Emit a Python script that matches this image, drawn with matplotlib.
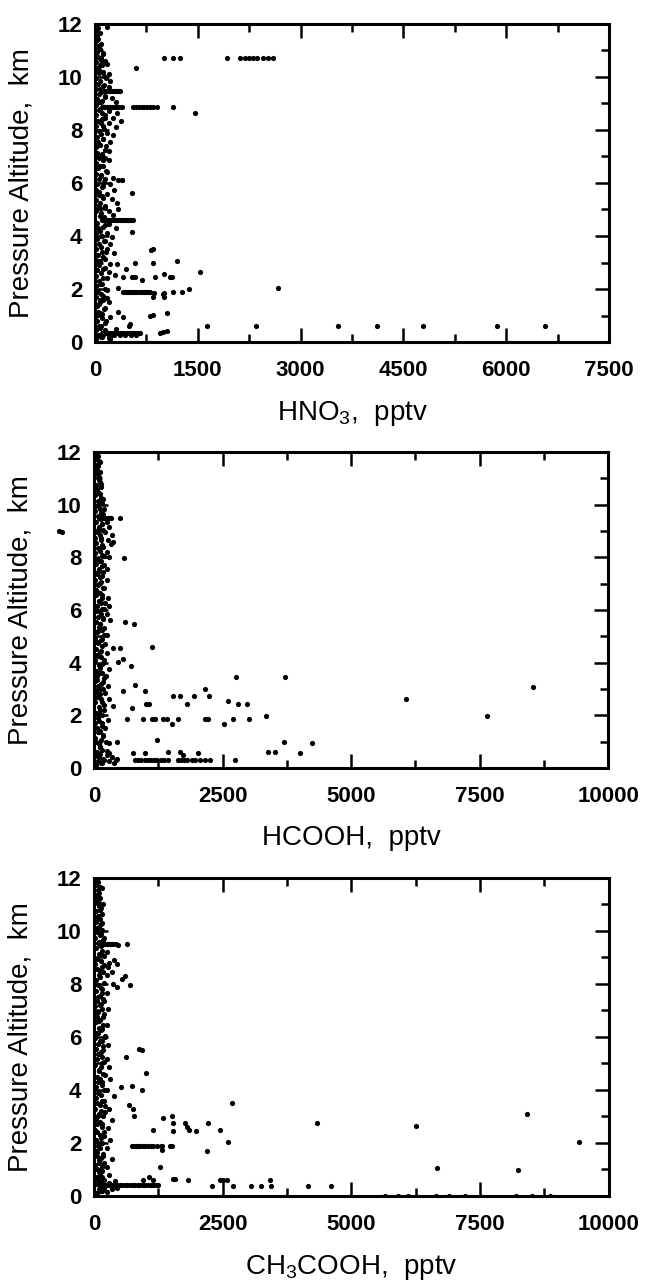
import numpy as np
import matplotlib
matplotlib.use("Agg")
import matplotlib.pyplot as plt
from matplotlib.ticker import MultipleLocator

plt.rcParams['font.family'] = ['Liberation Sans', 'DejaVu Sans']
plt.rcParams['mathtext.fontset'] = 'custom'
plt.rcParams['mathtext.rm'] = 'Liberation Sans'
plt.rcParams['mathtext.it'] = 'Liberation Sans'
plt.rcParams['mathtext.default'] = 'regular'

# altitudes (km) of the low-concentration samples hugging the y axis
edge_alt = [0.1, 0.25, 0.45, 0.6, 0.8, 1.0, 1.15, 1.35, 1.5, 1.7,
            1.9, 2.1, 2.3, 2.5, 2.7, 2.9, 3.1, 3.3, 3.5, 3.7,
            3.9, 4.1, 4.3, 4.5, 4.75, 4.95, 5.15, 5.35, 5.55, 5.75,
            5.95, 6.15, 6.35, 6.55, 6.75, 6.95, 7.15, 7.35, 7.55, 7.75,
            7.95, 8.15, 8.35, 8.55, 8.75, 8.95, 9.15, 9.35, 9.55, 9.75,
            9.95, 10.15, 10.35, 10.55, 10.75, 10.95, 11.15, 11.35, 11.55, 11.75,
            11.95]
edge_alt2 = [0.18, 0.35, 0.52, 0.7, 0.9, 1.08, 1.25, 1.42, 1.6, 1.8,
             2.0, 2.2, 2.4, 2.6, 2.8, 3.0, 3.2, 3.4, 3.6, 3.8,
             4.0, 4.2, 4.4, 4.62, 4.85, 5.05, 5.25, 5.45, 5.65, 5.85,
             6.05, 6.25, 6.45, 6.65, 6.85, 7.05, 7.25, 7.45, 7.65, 7.85,
             8.05, 8.25, 8.45, 8.65, 8.85, 9.05, 9.25, 9.45, 9.65, 9.85,
             10.05, 10.25, 10.45, 10.65, 10.85, 11.05, 11.25, 11.45, 11.65, 11.85]

# ---------------- HNO3 ----------------
hno3_edge = [15, 45, 20, 60, 30, 10, 50, 25, 70, 15,
             40, 20, 55, 10, 35, 65, 20, 45, 15, 60,
             30, 10, 50, 25, 70, 15, 40, 20, 55, 10,
             35, 60, 20, 45, 15, 60, 30, 10, 50, 25,
             65, 15, 40, 20, 55, 10, 35, 60, 20, 45,
             15, 60, 30, 10, 50, 25, 40, 15, 30, 10,
             20]
hno3_edge2 = [90, 120, 70, 140, 100, 80, 130, 60, 110, 90,
              150, 75, 120, 95, 140, 65, 110, 160, 85, 130,
              100, 70, 150, 120, 90, 140, 80, 115, 60, 105,
              135, 90, 160, 75, 120, 100, 140, 70, 110, 95,
              130, 85, 150, 100, 125, 70, 140, 95, 115, 80,
              130, 60, 100, 85, 120, 70, 95, 50, 80, 40]
hno3_core = [
    (20, 11.9), (175, 11.9), (120, 10.9), (90, 10.7), (150, 10.62), (180, 10.5),
    (75, 10.45), (110, 10.2), (200, 10.12), (160, 9.95), (220, 9.85), (130, 9.7),
    (210, 9.62), (80, 9.55), (150, 9.3), (250, 9.2), (100, 9.1), (300, 9.05),
    (80, 8.78), (200, 8.7), (320, 8.65), (150, 8.55), (260, 8.45), (100, 8.4),
    (380, 8.35), (200, 8.25), (120, 8.15), (300, 8.1), (180, 7.9), (260, 7.8),
    (120, 7.65), (220, 7.55), (80, 7.45), (160, 7.4), (200, 7.2), (100, 7.1),
    (150, 6.95), (210, 6.85), (120, 6.65), (180, 6.4), (90, 6.3), (260, 6.2),
    (150, 6.15), (330, 6.1), (400, 6.1), (220, 5.95), (120, 5.9), (280, 5.75),
    (180, 5.6), (100, 5.5), (250, 5.4), (320, 5.25), (150, 5.15), (80, 5.05),
    (200, 4.95), (270, 4.8), (130, 4.72), (200, 4.45), (120, 4.35), (300, 4.3),
    (170, 4.1), (90, 4.0), (250, 3.95), (140, 3.8), (220, 3.7), (180, 3.5),
    (100, 3.4), (280, 3.35), (150, 3.15), (80, 3.05), (220, 2.95), (120, 2.75),
    (200, 2.65), (170, 2.4), (100, 2.2), (180, 1.95), (120, 1.75), (80, 1.6),
    (200, 1.5), (150, 1.3), (100, 1.05), (160, 0.8), (90, 0.6), (100, 0.2),
    (200, 0.15), (150, 0.45), (250, 0.25), (300, 0.5), (220, 0.1),
]
hno3_rows = [
    (10.72, [1007, 1138, 1240, 1927, 2117, 2190, 2250, 2310, 2370, 2450, 2526, 2600]),
    (9.47, [100, 125, 150, 175, 200, 225, 250, 275, 300, 325, 350, 365]),
    (8.88, [100, 125, 150, 175, 200, 225, 250, 275, 300, 325, 350, 390,
            560, 600, 640, 680, 720, 760, 800, 850, 900]),
    (4.6, [100, 125, 150, 175, 200, 225, 250, 275, 300, 325, 350, 375,
           400, 425, 450, 475, 500, 525, 550]),
    (1.87, [410, 440, 470, 500, 530, 560, 590, 620, 650, 680, 710, 740, 770, 803]),
    (0.35, [100, 130, 160, 190, 220, 250, 280, 310, 340, 370, 400, 430,
            460, 490, 520, 550, 580, 610, 640, 655]),
    (0.27, [120, 200, 280, 360, 440, 520, 600]),
]
hno3_out = [
    (600, 10.35), (1140, 8.88), (1460, 8.64), (540, 5.62), (394, 6.11), (336, 5.0),
    (540, 4.15), (818, 3.47), (840, 3.52), (1197, 3.07), (850, 3.0), (584, 2.98),
    (453, 2.75), (320, 2.95), (1533, 2.63), (292, 2.53), (409, 2.45), (540, 2.45),
    (584, 2.45), (686, 2.34), (876, 2.45), (1007, 2.57), (1095, 2.45), (1124, 2.45),
    (336, 2.04), (2672, 2.04), (861, 1.85), (993, 1.8), (1139, 1.89), (1270, 1.89),
    (1372, 2.0), (847, 1.7), (1007, 1.7), (1007, 1.85), (175, 1.66), (336, 1.13),
    (410, 0.94), (803, 0.98), (847, 1.02), (1051, 1.09), (220, 0.94), (511, 0.68),
    (490, 0.62), (1635, 0.6), (2350, 0.6), (3548, 0.6), (4117, 0.6), (4789, 0.6),
    (5869, 0.6), (6570, 0.6), (950, 0.34), (990, 0.36), (1051, 0.42),
]

# ---------------- HCOOH ----------------
hcooh_edge = [30, 80, 20, 60, 110, 40, 15, 90, 50, 25,
              70, 35, 100, 20, 60, 45, 85, 15, 55, 30,
              95, 25, 65, 40, 80, 20, 50, 105, 35, 70,
              15, 60, 90, 30, 45, 75, 20, 55, 100, 35,
              65, 25, 85, 45, 15, 55, 95, 30, 70, 20,
              40, 80, 25, 60, 35, 90, 50, 20, 70, 30,
              45]
hcooh_edge2 = [130, 170, 110, 150, 90, 140, 180, 120, 160, 100,
               150, 120, 190, 140, 110, 170, 130, 200, 150, 120,
               180, 140, 110, 160, 130, 190, 150, 120, 170, 140,
               200, 130, 160, 110, 180, 140, 120, 170, 150, 130,
               190, 110, 160, 140, 120, 180, 150, 130, 170, 110,
               150, 130, 100, 140, 120, 90, 110, 80, 100, 70]
hcooh_core = [
    (117, 11.62), (60, 11.3), (90, 11.0), (140, 10.8), (50, 10.6), (120, 10.4),
    (170, 10.2), (80, 10.0), (200, 9.85), (130, 9.7), (250, 9.35), (150, 9.25),
    (300, 9.15), (80, 9.05), (220, 8.95), (350, 8.85), (130, 8.75), (270, 8.65),
    (370, 8.58), (330, 8.5), (180, 8.4), (90, 8.3), (250, 8.2), (150, 8.1),
    (300, 8.0), (120, 7.85), (200, 7.7), (253, 7.55), (80, 7.45), (150, 7.3),
    (250, 7.15), (100, 7.0), (200, 6.85), (60, 6.7), (150, 6.55), (280, 6.45),
    (100, 6.35), (220, 6.25), (300, 6.15), (150, 6.05), (80, 5.95), (250, 5.85),
    (180, 5.7), (311, 5.6), (120, 5.45), (200, 5.3), (80, 5.2), (250, 5.05),
    (150, 4.9), (60, 4.8), (220, 4.7), (140, 4.45), (250, 4.35), (80, 4.25),
    (200, 4.1), (150, 3.95), (300, 3.75), (100, 3.6), (230, 3.5), (60, 3.35),
    (180, 3.25), (280, 3.1), (120, 3.0), (220, 2.85), (80, 2.7), (300, 2.6),
    (150, 2.5), (200, 2.2), (100, 2.05), (272, 1.82), (150, 1.7), (220, 1.5),
    (80, 1.35), (180, 1.2), (120, 0.8), (250, 0.65), (100, 0.4), (200, 0.3),
    (300, 0.25), (350, 0.4), (420, 0.3), (250, 0.5), (150, 0.2), (450, 0.35),
    (380, 0.2), (300, 0.55),
]
hcooh_rows = [
    (9.5, [100, 130, 160, 190, 220, 250, 280, 310, 340, 506]),
    (1.86, [642, 953, 1128, 1187, 1342, 1420, 1634, 2159, 2218, 2704, 3016]),
    (0.3, [797, 860, 920, 990, 1050, 1110, 1170, 1230, 1300, 1370, 1440,
           1634, 1690, 1750, 1810, 1900, 1960, 2060, 2159, 2257, 2743]),
    (0.55, [759, 992, 2023]),
]
hcooh_out = [
    (584, 7.98), (603, 5.55), (778, 5.47), (370, 4.56), (506, 4.56), (1128, 4.6),
    (467, 4.03), (564, 4.14), (720, 3.87), (2763, 3.44), (3716, 3.44), (797, 3.15),
    (564, 2.92), (992, 2.92), (2159, 3.0), (1537, 2.73), (1673, 2.73), (1945, 2.73),
    (2237, 2.73), (370, 2.35), (739, 2.28), (1011, 2.43), (1070, 2.43), (1809, 2.43),
    (2607, 2.54), (2801, 2.43), (2977, 2.43), (3346, 1.97), (1517, 1.67), (2529, 1.67),
    (1226, 1.06), (233, 1.0), (447, 1.0), (292, 0.95), (3696, 0.97), (4241, 0.95),
    (4008, 0.57), (3385, 0.6), (3521, 0.6), (1440, 0.6), (1673, 0.62), (1731, 0.5),
    (6070, 2.6), (7646, 1.99), (8541, 3.06),
]
# stray sample plotted left of the frame in the original
hcooh_stray_ppt = [-680, -630]
hcooh_stray_alt = [9.0, 8.97]

# ---------------- CH3COOH ----------------
ch3cooh_edge = [40, 90, 25, 70, 120, 50, 20, 100, 60, 30,
                80, 45, 110, 25, 65, 35, 95, 20, 60, 40,
                105, 30, 75, 50, 90, 25, 60, 115, 40, 80,
                20, 70, 100, 35, 55, 85, 25, 65, 110, 40,
                75, 30, 95, 50, 20, 60, 105, 35, 80, 25,
                50, 90, 30, 70, 40, 100, 55, 25, 80, 35,
                50]
ch3cooh_edge2 = [140, 180, 120, 160, 100, 150, 190, 130, 170, 110,
                 160, 130, 200, 150, 120, 180, 140, 210, 160, 130,
                 190, 150, 120, 170, 140, 200, 160, 130, 180, 150,
                 210, 140, 170, 120, 190, 150, 130, 180, 160, 140,
                 200, 120, 170, 150, 130, 190, 160, 140, 180, 120,
                 160, 140, 110, 150, 130, 100, 120, 90, 110, 80]
ch3cooh_core = [
    (155, 11.62), (175, 11.0), (60, 11.3), (120, 10.8), (80, 10.5), (150, 10.3),
    (60, 10.1), (130, 9.9), (200, 9.75), (90, 9.6), (252, 9.2), (150, 9.1),
    (300, 8.8), (200, 8.7), (272, 8.64), (120, 8.5), (350, 8.45), (250, 8.35),
    (150, 7.8), (250, 7.65), (80, 7.5), (200, 7.35), (120, 7.2), (272, 7.05),
    (60, 6.9), (180, 6.75), (100, 6.6), (250, 6.45), (150, 6.3), (60, 6.15),
    (220, 6.0), (120, 5.85), (272, 5.7), (180, 5.5), (80, 5.35), (250, 5.15),
    (150, 5.0), (300, 4.85), (100, 4.7), (220, 4.55), (320, 4.4), (150, 4.3),
    (250, 4.0), (80, 3.9), (200, 3.6), (120, 3.45), (300, 3.3), (220, 3.15),
    (80, 3.0), (350, 2.85), (150, 2.7), (280, 2.55), (60, 2.4), (200, 2.25),
    (320, 2.1), (120, 2.0), (250, 1.8), (60, 1.65), (180, 1.5), (350, 1.4),
    (100, 1.25), (260, 1.1), (150, 0.95), (300, 0.8), (60, 0.7), (200, 0.6),
    (400, 0.55), (50, 0.1), (150, 0.2), (250, 0.15), (350, 0.25), (450, 0.3),
    (100, 0.55), (300, 0.5), (200, 0.3),
]
ch3cooh_rows = [
    (9.5, [100, 130, 160, 190, 220, 250, 280, 310, 340, 370, 427, 641]),
    (1.9, [738, 780, 820, 860, 900, 950, 1000, 1050, 1100, 1150, 1223, 1301, 1320, 1476, 1515]),
    (0.42, [100, 150, 200, 250, 300, 350, 400, 450, 500, 550, 600, 650,
            700, 750, 800, 850, 900, 950, 1000, 1050, 1100, 1150, 1200, 1243]),
    (0.36, [2291, 2700, 3049, 3243, 3437, 4156, 4603]),
    (0.6, [952, 1146, 1825, 2447, 2505, 2583, 3418]),
    (0.0, [5650, 5900, 6100, 6650, 6900, 7200, 8200, 8500, 8850]),
]
ch3cooh_out = [
    (466, 9.47), (388, 8.9), (447, 8.75), (602, 8.3), (544, 8.2), (369, 8.0),
    (447, 7.9), (699, 7.96), (874, 5.55), (932, 5.5), (621, 5.25), (1010, 4.64),
    (524, 4.11), (738, 4.15), (932, 3.98), (388, 3.77), (680, 3.43), (757, 3.28),
    (777, 3.0), (2680, 3.51), (1340, 2.96), (1515, 3.03), (1534, 2.77), (1534, 2.45),
    (1146, 2.47), (1767, 2.77), (1806, 2.6), (1845, 2.47), (1981, 2.45), (2214, 2.77),
    (2447, 2.47), (2602, 2.04), (4331, 2.75), (1320, 1.74), (2195, 1.7), (1282, 1.1),
    (1068, 0.72), (1534, 0.64), (1573, 0.64),
    (6253, 2.64), (8408, 3.09), (9418, 2.04), (6661, 1.06), (8234, 0.98),
]


def collect(edge_ppt, edge_ppt2, core, rows, out):
    ppt = list(edge_ppt) + list(edge_ppt2)
    alt = list(edge_alt) + list(edge_alt2)
    for x, y in core + out:
        ppt.append(x)
        alt.append(y)
    for y, xs in rows:
        ppt.extend(xs)
        alt.extend([y] * len(xs))
    return np.array(ppt), np.array(alt)


def draw_panel(ax, ppt, alt, xmax, xstep, xlabel):
    ax.scatter(ppt, alt, s=14, c='black', linewidths=0)
    ax.set_xlim(0, xmax)
    ax.set_ylim(0, 12)
    ax.xaxis.set_major_locator(MultipleLocator(xstep))
    ax.xaxis.set_minor_locator(MultipleLocator(xstep / 2))
    ax.yaxis.set_major_locator(MultipleLocator(2))
    ax.yaxis.set_minor_locator(MultipleLocator(1))
    ax.tick_params(which='both', direction='in', top=True, right=True, width=1.8)
    ax.tick_params(which='major', length=10)
    ax.tick_params(which='minor', length=5.5)
    ax.tick_params(axis='x', pad=13)
    ax.tick_params(axis='y', pad=9)
    for lab in ax.get_xticklabels() + ax.get_yticklabels():
        lab.set_fontsize(16)
        lab.set_fontweight('bold')
    for sp in ax.spines.values():
        sp.set_linewidth(2.2)
    ax.set_ylabel('Pressure Altitude,  km', fontsize=20)
    ax.yaxis.set_label_coords(-0.117, 0.5)
    ax.set_xlabel(xlabel, fontsize=20)
    ax.xaxis.set_label_coords(0.5, -0.18)


fig = plt.figure(figsize=(6.46, 12.81), dpi=100)
ax1 = fig.add_axes([0.147, 0.733, 0.796, 0.2483])
ax2 = fig.add_axes([0.1455, 0.4005, 0.796, 0.2467])
ax3 = fig.add_axes([0.1455, 0.0664, 0.797, 0.2482])

x, y = collect(hno3_edge, hno3_edge2, hno3_core, hno3_rows, hno3_out)
draw_panel(ax1, x, y, 7500, 1500, 'HNO$_3$,  pptv')

x, y = collect(hcooh_edge, hcooh_edge2, hcooh_core, hcooh_rows, hcooh_out)
draw_panel(ax2, x, y, 10000, 2500, 'HCOOH,  pptv')
ax2.scatter(hcooh_stray_ppt, hcooh_stray_alt, s=14, c='black', linewidths=0, clip_on=False)

x, y = collect(ch3cooh_edge, ch3cooh_edge2, ch3cooh_core, ch3cooh_rows, ch3cooh_out)
draw_panel(ax3, x, y, 10000, 2500, 'CH$_3$COOH,  pptv')

fig.savefig('out.png', dpi=100)
